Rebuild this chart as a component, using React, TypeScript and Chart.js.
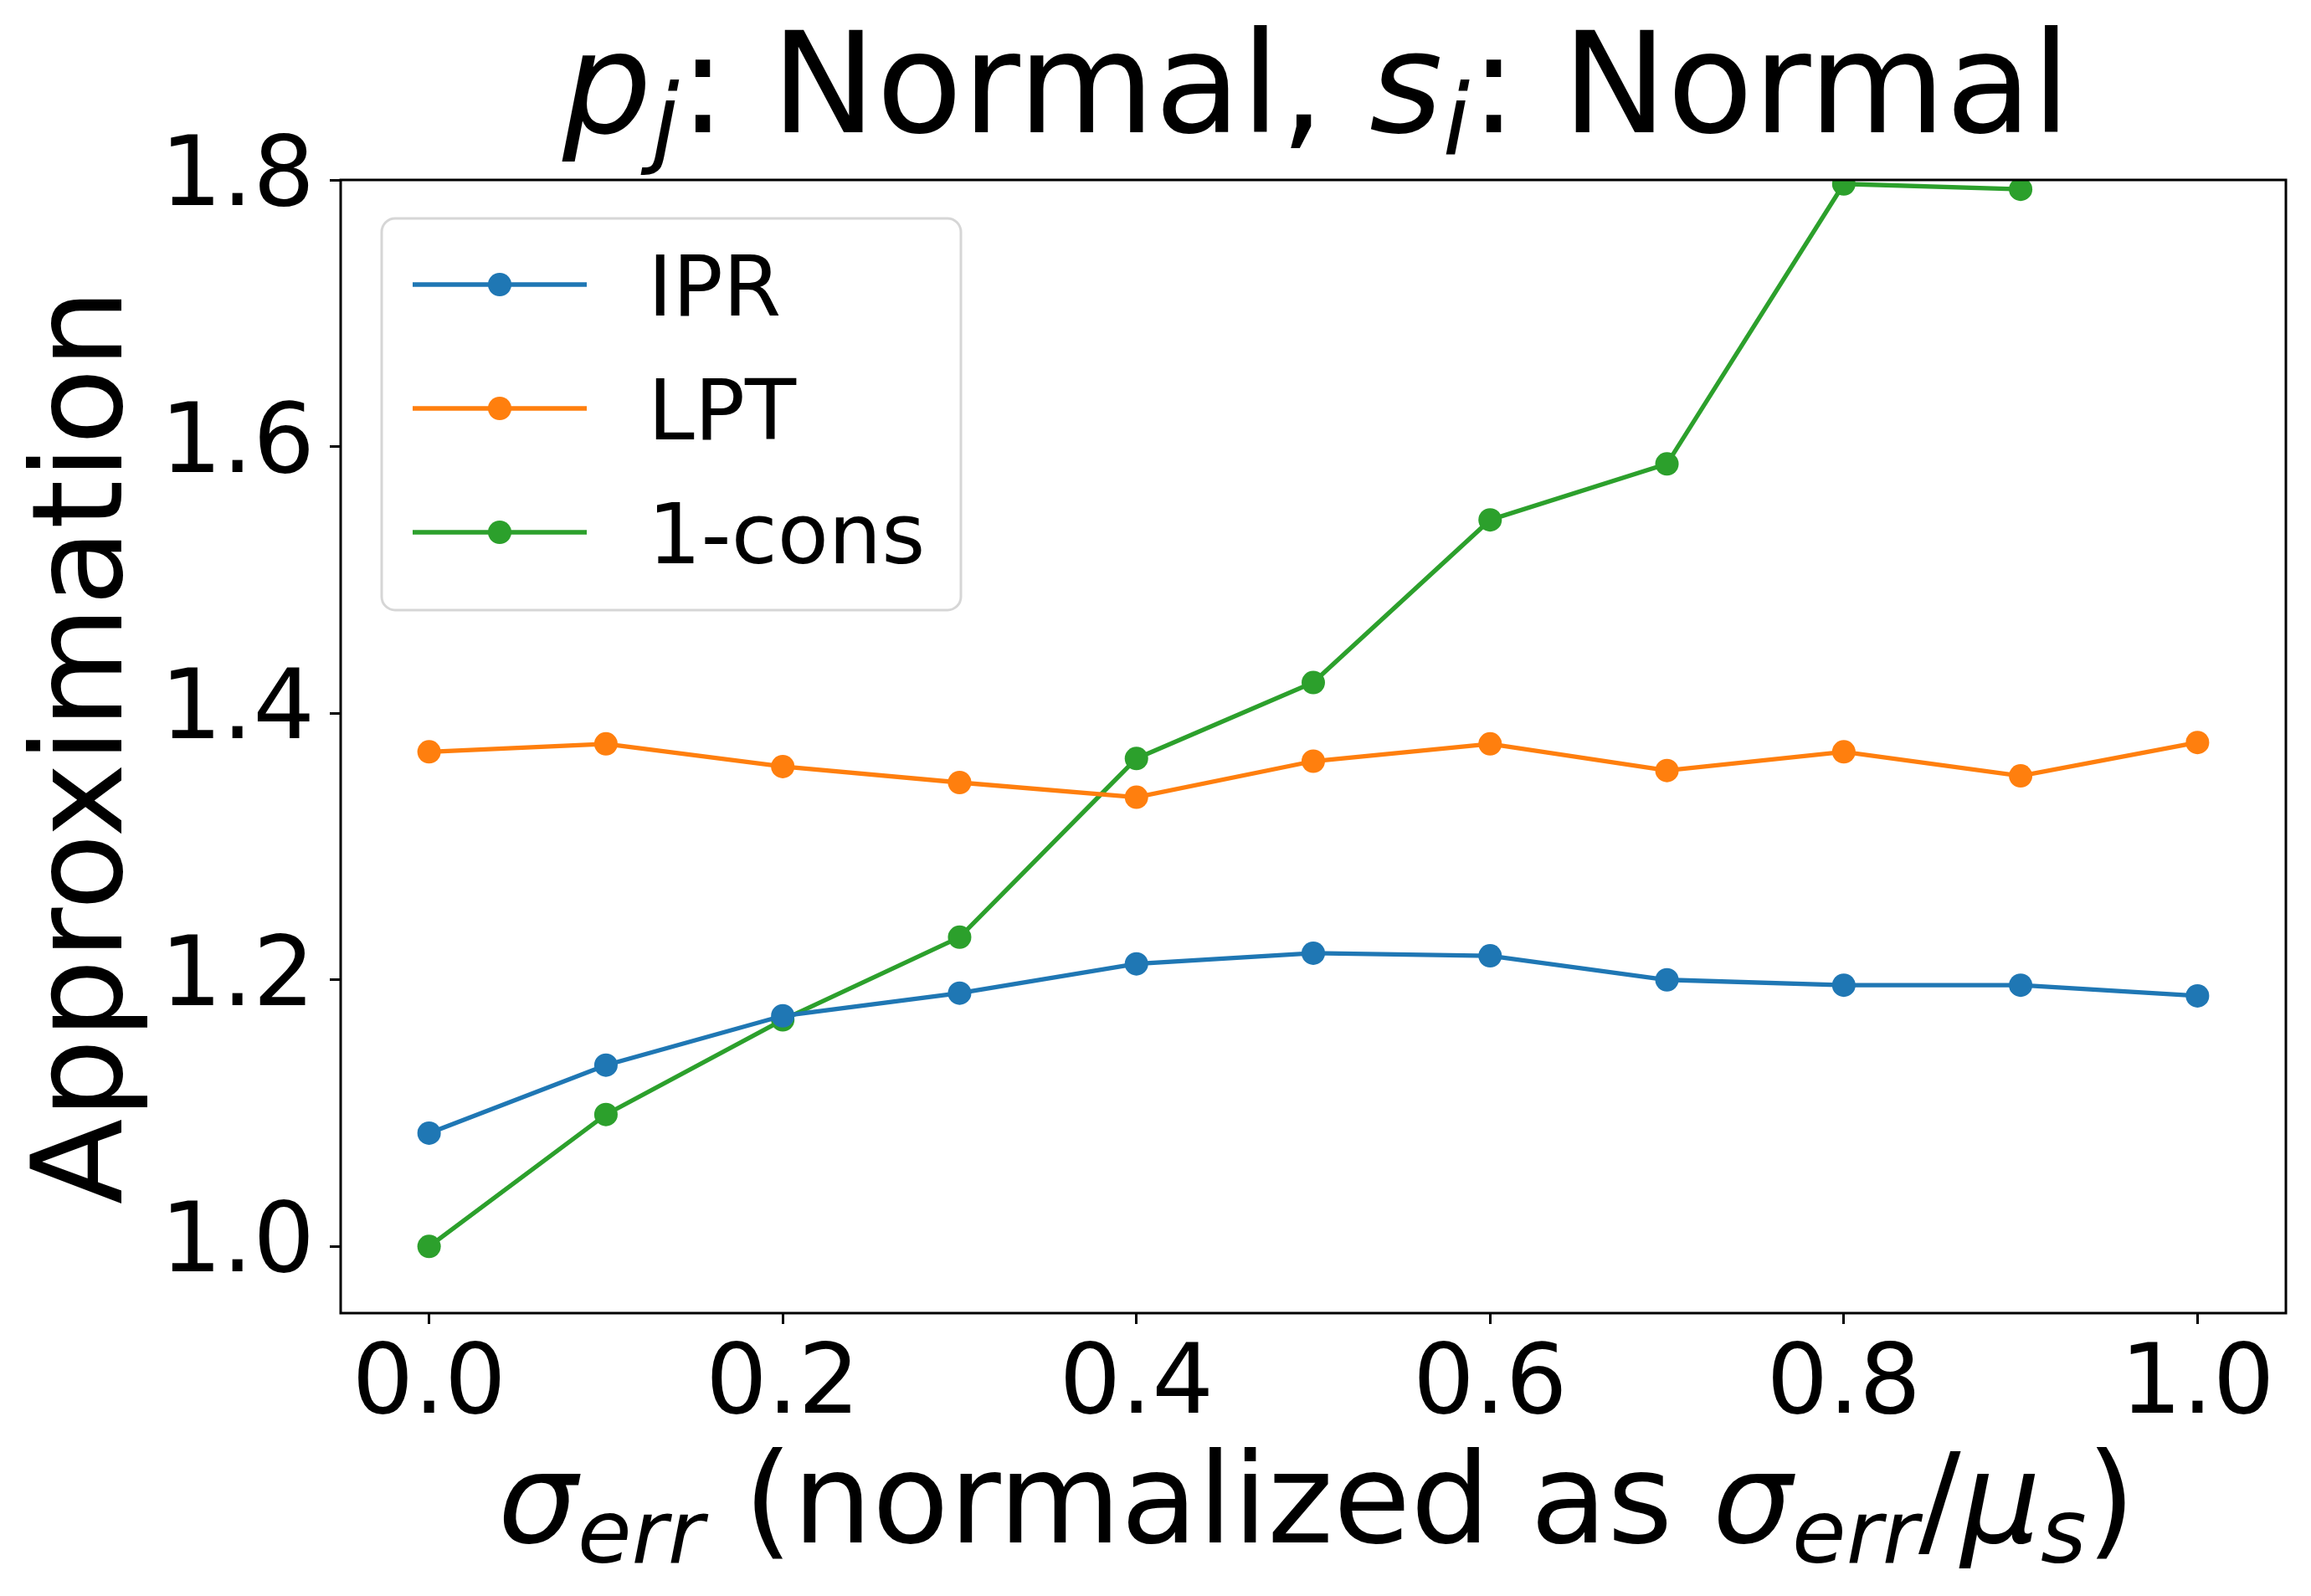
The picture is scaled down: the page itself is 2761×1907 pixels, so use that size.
import React, { useEffect, useRef } from "react";
import { Chart, registerables } from "chart.js";

Chart.register(...registerables);

const xValues = [0.0, 0.1, 0.2, 0.3, 0.4, 0.5, 0.6, 0.7, 0.8, 0.9, 1.0];
const iprValues = [1.085, 1.136, 1.173, 1.19, 1.212, 1.22, 1.218, 1.2, 1.196, 1.196, 1.188];
const lptValues = [1.371, 1.377, 1.36, 1.348, 1.337, 1.364, 1.377, 1.357, 1.371, 1.353, 1.378];
const consValues: (number | null)[] = [1.0, 1.099, 1.17, 1.232, 1.366, 1.423, 1.545, 1.587, 1.797, 1.793, null];
const seriesLabels = ["IPR", "LPT", "1-cons"];
const seriesColors = ["#1f77b4", "#ff7f0e", "#2ca02c"];
const xTicks = [0.0, 0.2, 0.4, 0.6, 0.8, 1.0];
const yTicks = [1.0, 1.2, 1.4, 1.6, 1.8];

const FONT = '"DejaVu Sans", "Liberation Sans", sans-serif';

type Seg = { t: string; it?: boolean; sub?: boolean };

function drawRich(ctx: CanvasRenderingContext2D, segs: Seg[], cx: number, baseline: number, size: number) {
  const fontFor = (s: Seg) => `${s.it ? "italic " : ""}${s.sub ? size * 0.7 : size}px ${FONT}`;
  let total = 0;
  const widths: number[] = [];
  for (const s of segs) {
    ctx.font = fontFor(s);
    const w = ctx.measureText(s.t).width;
    widths.push(w);
    total += w;
  }
  let x = cx - total / 2;
  ctx.textAlign = "left";
  ctx.textBaseline = "alphabetic";
  segs.forEach((s, i) => {
    ctx.font = fontFor(s);
    ctx.fillText(s.t, x, baseline + (s.sub ? size * 0.16 : 0));
    x += widths[i];
  });
}

const titleSegs: Seg[] = [
  { t: "p", it: true },
  { t: "j", it: true, sub: true },
  { t: ": Normal, " },
  { t: "s", it: true },
  { t: "i", it: true, sub: true },
  { t: ": Normal" },
];

const xLabelSegs: Seg[] = [
  { t: "σ", it: true },
  { t: "err", it: true, sub: true },
  { t: " (normalized as " },
  { t: "σ", it: true },
  { t: "err", it: true, sub: true },
  { t: "/" },
  { t: "μ", it: true },
  { t: "s", it: true, sub: true },
  { t: ")" },
];

const decorPlugin = {
  id: "decor",
  afterDatasetsDraw(chart: any) {
    const ctx: CanvasRenderingContext2D = chart.ctx;
    const a = chart.chartArea;
    ctx.save();
    ctx.strokeStyle = "#000";
    ctx.lineWidth = 3;
    ctx.strokeRect(a.left, a.top, a.right - a.left, a.bottom - a.top);

    const bx = a.left + 49;
    const by = a.top + 46;
    const bw = 692;
    const bh = 468;
    ctx.beginPath();
    (ctx as any).roundRect(bx, by, bw, bh, 16);
    ctx.fillStyle = "rgba(255,255,255,0.8)";
    ctx.fill();
    ctx.strokeStyle = "#d6d6d6";
    ctx.lineWidth = 3;
    ctx.stroke();
    chart.data.datasets.forEach((ds: any, i: number) => {
      const cy = by + 79 + i * 148;
      ctx.strokeStyle = ds.borderColor;
      ctx.lineWidth = ds.borderWidth;
      ctx.beginPath();
      ctx.moveTo(bx + 37, cy);
      ctx.lineTo(bx + 245, cy);
      ctx.stroke();
      ctx.fillStyle = ds.backgroundColor;
      ctx.beginPath();
      ctx.arc(bx + 141, cy, ds.pointRadius, 0, Math.PI * 2);
      ctx.fill();
      ctx.fillStyle = "#000";
      ctx.font = `100px ${FONT}`;
      ctx.textAlign = "left";
      ctx.textBaseline = "alphabetic";
      ctx.fillText(ds.label, bx + 318, cy + 36.5);
    });
    ctx.restore();
  },
  afterDraw(chart: any) {
    const ctx: CanvasRenderingContext2D = chart.ctx;
    const a = chart.chartArea;
    const cx = (a.left + a.right) / 2;
    ctx.save();
    ctx.fillStyle = "#000";
    drawRich(ctx, titleSegs, cx + 4, 158, 168);
    drawRich(ctx, xLabelSegs, cx + 4, 1843, 150);
    ctx.translate(145, (a.top + a.bottom) / 2);
    ctx.rotate(-Math.PI / 2);
    ctx.font = `150px ${FONT}`;
    ctx.textAlign = "center";
    ctx.textBaseline = "alphabetic";
    ctx.fillText("Approximation", 0, 0);
    ctx.restore();
  },
};

export default function App() {
  const ref = useRef<HTMLCanvasElement | null>(null);
  useEffect(() => {
    if (!ref.current) return;
    const mk = (vals: (number | null)[]) => xValues.map((x, i) => ({ x, y: vals[i] }));
    const all = [iprValues, lptValues, consValues];
    const chart = new Chart(ref.current, {
      type: "line",
      data: {
        datasets: all.map((vals, i) => ({
          label: seriesLabels[i],
          data: mk(vals) as any,
          borderColor: seriesColors[i],
          backgroundColor: seriesColors[i],
          pointBackgroundColor: seriesColors[i],
          pointBorderWidth: 0,
          pointRadius: 14,
          borderWidth: 5.3,
          tension: 0,
          spanGaps: false,
        })),
      },
      options: {
        animation: false,
        responsive: false,
        devicePixelRatio: 1,
        layout: { padding: { top: 215, right: 30, bottom: 0, left: 0 } },
        plugins: { legend: { display: false }, title: { display: false }, tooltip: { enabled: false } },
        scales: {
          x: {
            type: "linear",
            min: -0.05,
            max: 1.05,
            afterBuildTicks: (s: any) => {
              s.ticks = xTicks.map((v) => ({ value: v }));
            },
            afterFit: (s: any) => {
              s.height = 338;
            },
            border: { display: false },
            grid: {
              display: true,
              drawOnChartArea: false,
              drawTicks: true,
              tickLength: 13,
              tickWidth: 3,
              tickColor: "#000",
            },
            ticks: {
              color: "#000",
              font: { family: FONT, size: 116 },
              padding: 6,
              maxRotation: 0,
              autoSkip: false,
              callback: (v: any) => Number(v).toFixed(1),
            },
          },
          y: {
            type: "linear",
            min: 0.95,
            max: 1.8,
            afterBuildTicks: (s: any) => {
              s.ticks = yTicks.map((v) => ({ value: v }));
            },
            afterFit: (s: any) => {
              s.width = 407;
            },
            border: { display: false },
            grid: {
              display: true,
              drawOnChartArea: false,
              drawTicks: true,
              tickLength: 13,
              tickWidth: 3,
              tickColor: "#000",
            },
            ticks: {
              color: "#000",
              font: { family: FONT, size: 116 },
              padding: 18,
              autoSkip: false,
              callback: (v: any) => Number(v).toFixed(1),
            },
          },
        },
      },
      plugins: [decorPlugin],
    });
    return () => chart.destroy();
  }, []);
  return (
    <div style={{ position: "fixed", left: 0, top: 0, width: 2761, height: 1907, background: "#fff" }}>
      <canvas ref={ref} width={2761} height={1907} style={{ width: 2761, height: 1907, display: "block" }} />
    </div>
  );
}
